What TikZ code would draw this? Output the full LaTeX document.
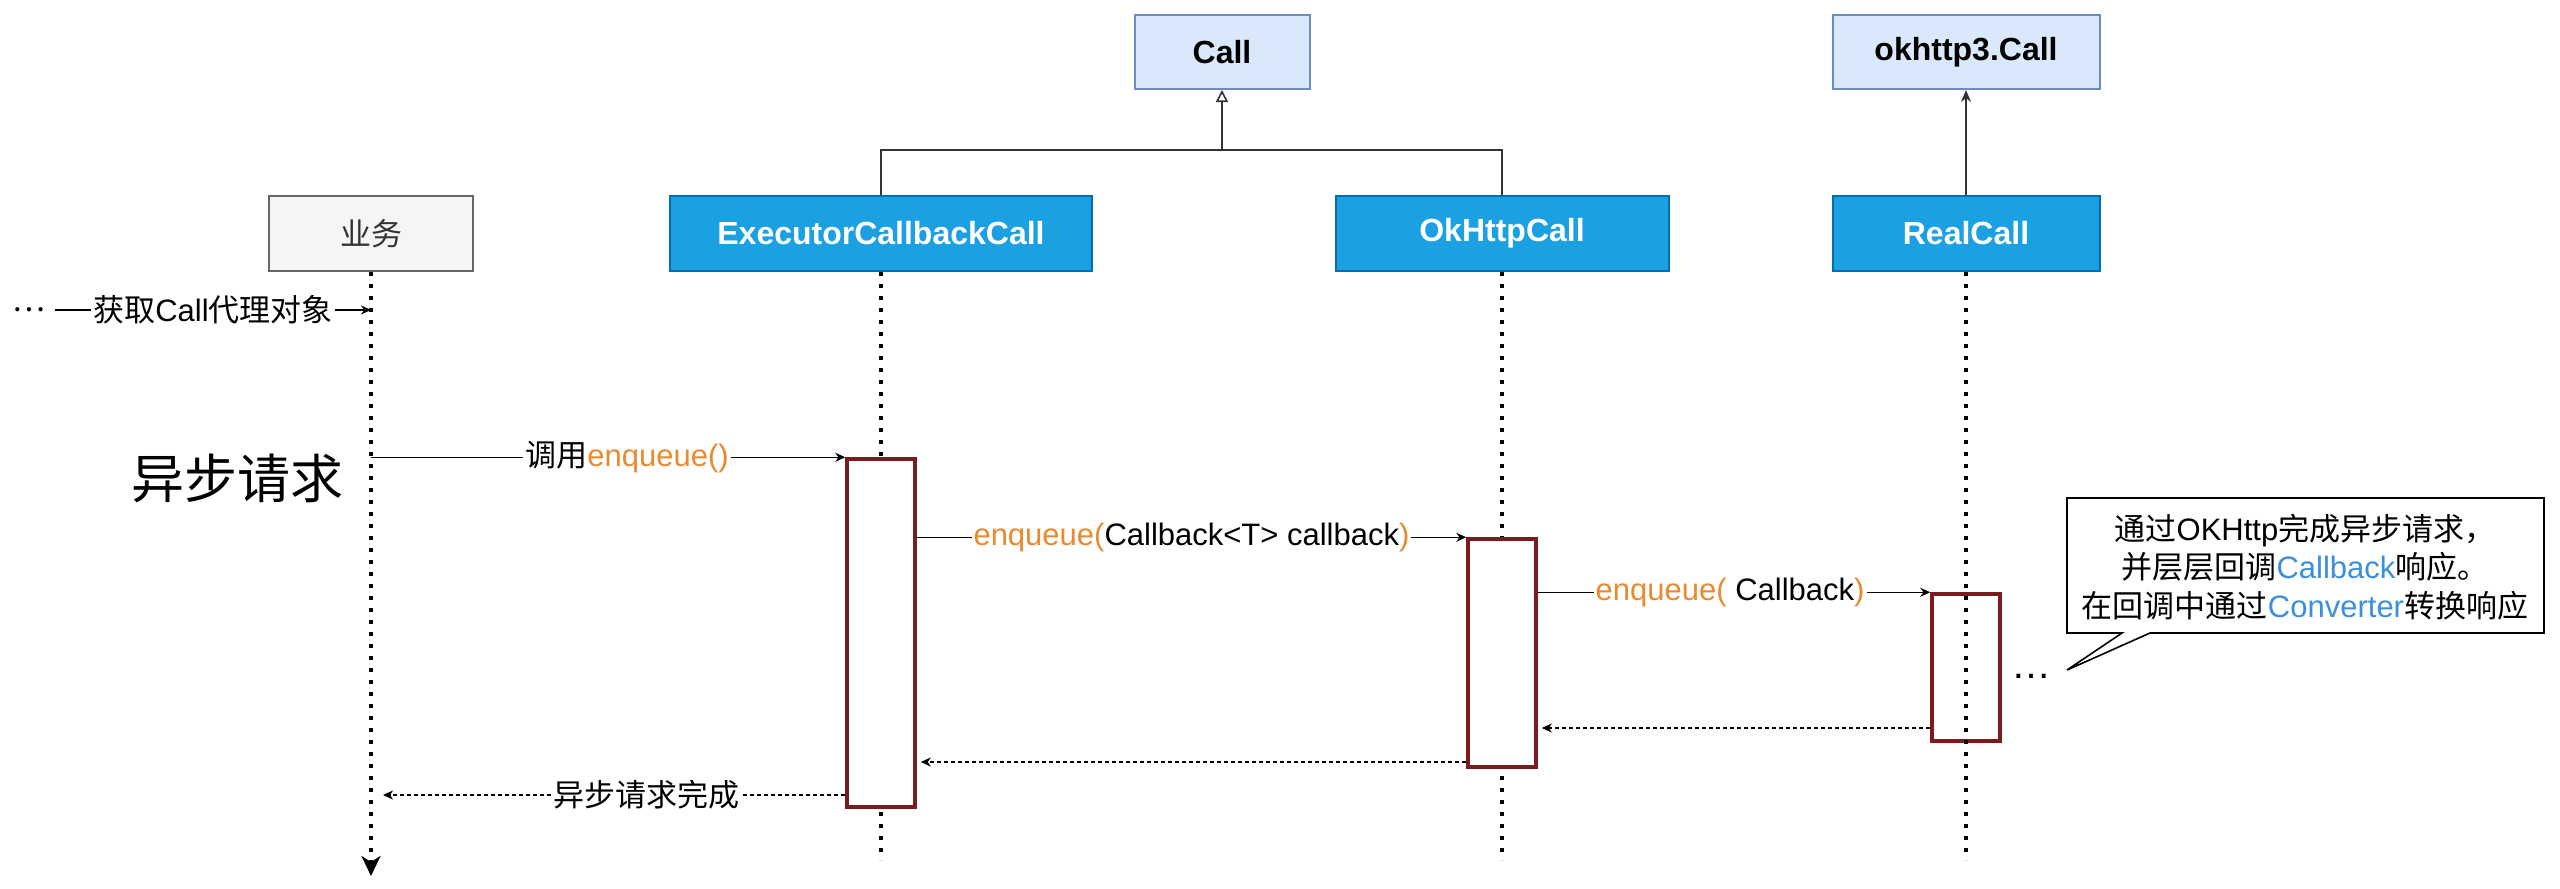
\documentclass[tikz,border=0pt]{standalone}
\usepackage{fontspec}
\setmainfont{Liberation Sans}
\newfontfamily\cjkf{Noto Sans CJK SC}
\newcommand\zhs[1]{{\cjkf #1}}
\usetikzlibrary{arrows.meta,calc}
\definecolor{bfill}{HTML}{1BA1E2}
\definecolor{bdraw}{HTML}{006EAF}
\definecolor{lfill}{HTML}{DAE8FC}
\definecolor{ldraw}{HTML}{6C8EBF}
\definecolor{gfill}{HTML}{F5F5F5}
\definecolor{gdraw}{HTML}{666666}
\definecolor{gtext}{HTML}{333333}
\definecolor{actred}{HTML}{7A1C1C}
\definecolor{orng}{HTML}{EA8A2E}
\definecolor{lblue}{HTML}{3C8FDB}
\begin{document}
\begin{tikzpicture}[x=0.5pt,y=-0.5pt,
  every node/.style={font=\fontsize{15.5}{18}\selectfont},
  cls/.style={draw=bdraw, fill=bfill, text=white, line width=1pt, minimum height=37.5pt, inner sep=0pt, font=\fontsize{16}{19}\selectfont\bfseries},
  iface/.style={draw=ldraw, fill=lfill, text=black, line width=1pt, minimum height=37pt, inner sep=0pt, font=\fontsize{16}{19}\selectfont\bfseries},
  actor/.style={draw=gdraw, fill=gfill, text=gtext, line width=1pt, minimum height=37.5pt, inner sep=0pt, font=\fontsize{15.5}{19}\selectfont},
  life/.style={line width=2pt, dash pattern=on 2pt off 4pt},
  actbox/.style={draw=actred, fill=white, line width=1.75pt, minimum width=34pt, inner sep=0pt},
  msg/.style={line width=0.75pt, -{Stealth[length=5pt,width=4.5pt]}},
  ret/.style={line width=0.7pt, dash pattern=on 2pt off 1.5pt, -{Stealth[length=5pt,width=4.5pt,inset=1.5pt]}},
  lbl/.style={fill=white, inner sep=1pt},
  inh/.style={line width=0.8pt, draw=gtext},
]
\useasboundingbox (0,0) rectangle (2560,889);

% participants
\node[actor, minimum width=102pt] (yw) at (371,233.5) {\zhs{业务}};
\node[cls, minimum width=211pt] (ecc) at (881,233.5) {ExecutorCallbackCall};
\node[cls, minimum width=166.5pt] (okc) at (1502,233.5) {OkHttpCall};
\node[cls, minimum width=133.5pt] (real) at (1966,233.5) {RealCall};
\node[iface, minimum width=87.5pt] (call) at (1222,52) {Call};
\node[iface, minimum width=133.5pt] (ok3) at (1966,52) {okhttp3.Call};

% inheritance
\coordinate (bar) at (1222,150);
\draw[inh] (ecc.north) |- (bar) -| (okc.north);
\draw[inh, -{Triangle[open,length=6pt,width=6pt]}] (bar) -- (call.south);
\draw[inh, -{Stealth[length=6pt,width=5pt]}] (real.north) -- (ok3.south);

% lifelines
\coordinate (yEnd) at (0,860);
\coordinate (ywEnd) at (0,876);
\draw[life, -{Stealth[length=10pt,width=9.5pt,inset=3pt]}] (yw.south) -- (yw.south |- ywEnd);
\draw[life] (ecc.south) -- (ecc.south |- yEnd);
\draw[life] (okc.south) -- (okc.south |- yEnd);

% activations
\node[actbox, minimum height=174pt] (a1) at (881,633) {};
\node[actbox, minimum height=114pt] (a2) at (1502,653) {};
\node[actbox, minimum height=73.5pt, fill=none] (a3) at (1966,667.5) {};
\draw[life] (real.south) -- (real.south |- yEnd);

% get proxy
\coordinate (t1) at (0,310);
\coordinate (gs) at (55,310);
\node (dots1) at (29,310) {\zhs{…}};
\draw[msg] (gs) -- node[lbl] {\zhs{获取}Call\zhs{代理对象}} (yw.south |- t1);

% big label
\node[font=\fontsize{26.5}{30}\selectfont] (async) at (237,478) {\zhs{异步请求}};

% messages
\draw[msg] (yw.south |- a1.north) -- node[lbl, pos=0.54] {\zhs{调用}\textcolor{orng}{enqueue()}} (a1.north west);
\draw[msg] (a1.east |- a2.north) -- node[lbl, pos=0.5] {\textcolor{orng}{enqueue(}Callback<T> callback\textcolor{orng}{)}} (a2.north west);
\draw[msg] (a2.east |- a3.north) -- node[lbl, pos=0.49] {\textcolor{orng}{enqueue(} Callback\textcolor{orng}{)}} (a3.north west);

% returns
\coordinate (r1) at (0,728);
\coordinate (r2) at (0,762);
\coordinate (r3) at (0,795);
\draw[ret, shorten >=2pt] (a3.west |- r1) -- (a2.east |- r1);
\draw[ret, shorten >=2pt] (a2.west |- r2) -- (a1.east |- r2);
\draw[ret, shorten >=6pt] (a1.west |- r3) -- node[lbl, pos=0.42] {\zhs{异步请求完成}} (yw.south |- r3);

% ellipsis
\node[font=\fontsize{20}{24}\selectfont, anchor=base] (dots2) at (2031,678) {…};

% callout
\draw[line width=0.8pt, fill=white] (2067,498) -- (2544,498) -- (2544,633) -- (2150,633) -- (2067,670) -- (2122,633) -- (2067,633) -- cycle;
\node[align=center, font=\fontsize{15.5}{19.3}\selectfont] (note) at (2305,567) {\zhs{通过}OKHttp\zhs{完成异步请求，}\\\zhs{并层层回调}\textcolor{lblue}{Callback}\zhs{响应。}\\\zhs{在回调中通过}\textcolor{lblue}{Converter}\zhs{转换响应}};
\end{tikzpicture}
\end{document}
